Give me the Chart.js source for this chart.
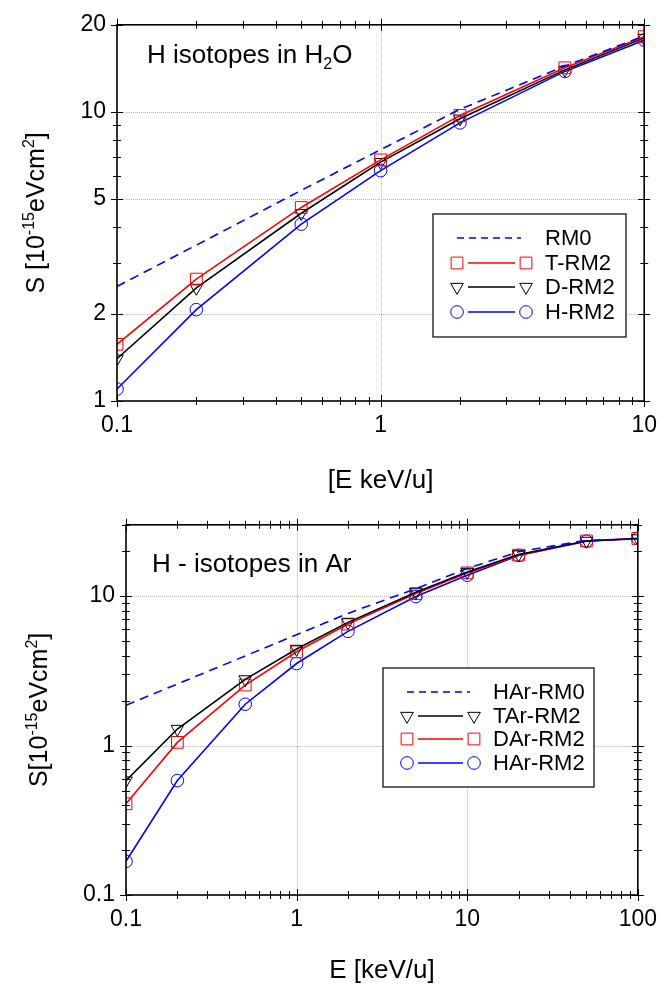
<!DOCTYPE html>
<html>
<head>
<meta charset="utf-8">
<script src="https://cdn.jsdelivr.net/npm/chart.js@4.4.1/dist/chart.umd.min.js"></script>
<style>
  body { margin: 0; background: #fff; }
  #wrap { position: relative; width: 668px; height: 987px; }
  canvas { position: absolute; left: 0; }
</style>
</head>
<body>
<div id="wrap">
  <canvas id="top" width="668" height="500" style="top:0"></canvas>
  <canvas id="bot" width="668" height="487" style="top:500px"></canvas>
</div>
<script>
// --- data: H isotopes in H2O
const topE = [0.1, 0.2, 0.5, 1, 2, 5, 10];
const topRM0 = [2.49, 3.46, 5.35, 7.40, 10.2, 14.4, 18.3];
const topT = [1.57, 2.64, 4.67, 6.82, 9.72, 14.2, 18.2];
const topD = [1.40, 2.46, 4.46, 6.70, 9.47, 13.97, 18.0];
const topH = [1.10, 2.07, 4.09, 6.26, 9.16, 13.8, 17.7];

// --- data: H isotopes in Ar
const botE = [0.1, 0.2, 0.5, 1, 2, 5, 10, 20, 50, 100];
const botRM0 = [1.86, 2.58, 3.98, 5.52, 7.66, 11.2, 15.3, 19.8, 23.6, 24.1];
const botT = [0.583, 1.29, 2.77, 4.43, 6.67, 10.6, 14.5, 19.0, 23.4, 24.3];
const botD = [0.408, 1.05, 2.54, 4.24, 6.50, 10.4, 14.3, 18.8, 23.4, 24.3];
const botH = [0.168, 0.583, 1.89, 3.54, 5.81, 9.93, 13.8, 18.7, 23.3, 24.3];

// --- tick labels
const topXTicks = [0.1, 1, 10];
const topYTicks = [1, 2, 5, 10, 20];
const botXTicks = [0.1, 1, 10, 100];
const botYTicks = [0.1, 1, 10];

const FONT = "'Liberation Sans', Arial, sans-serif";
const RED = "#ff0000", BLUE = "#0000ff", BLACK = "#000000";

const pts = (xs, ys) => xs.map((x, i) => ({ x: x, y: ys[i] }));

const styles = {
  dash: { borderColor: BLUE, borderWidth: 1.6, borderDash: [9, 6], pointRadius: 0 },
  square: { pointStyle: "rect", pointRadius: 8.3, pointRotation: 0 },
  tri: { pointStyle: "triangle", pointRadius: 7.3, pointRotation: 180 },
  circ: { pointStyle: "circle", pointRadius: 6.3, pointRotation: 0 },
};

const marked = (label, data, color, shape) => Object.assign({
  label: label,
  data: data,
  borderColor: color,
  borderWidth: 1.6,
  pointBorderColor: color,
  pointBackgroundColor: "rgba(0,0,0,0)",
  pointBorderWidth: 1,
  pointHoverRadius: styles[shape].pointRadius,
}, styles[shape]);

// all 1..9 x 10^n positions inside the range (minor tick marks)
function logSteps(min, max) {
  const out = [];
  for (let d = Math.floor(Math.log10(min)); d <= Math.ceil(Math.log10(max)); d++) {
    for (let k = 1; k <= 9; k++) {
      const v = +(k * Math.pow(10, d)).toPrecision(3);
      if (v >= min * 0.999 && v <= max * 1.001) out.push(v);
    }
  }
  return out;
}

function drawRich(ctx, parts, x, y, size, align) {
  const fontOf = (p) => (p.sup || p.sub ? Math.round(size * 0.62) : size) + "px " + FONT;
  let total = 0;
  parts.forEach(p => { ctx.font = fontOf(p); p.w = ctx.measureText(p.t).width; total += p.w; });
  let cx = align === "center" ? x - total / 2 : x;
  ctx.textAlign = "left";
  ctx.textBaseline = "alphabetic";
  parts.forEach(p => {
    ctx.font = fontOf(p);
    let dy = 0;
    if (p.sup) dy = -size * 0.42;
    if (p.sub) dy = size * 0.22;
    ctx.fillText(p.t, cx, y + dy);
    cx += p.w;
  });
}

const decor = {
  id: "decor",
  beforeDatasetsDraw(chart, args, o) {
    const { ctx, chartArea: a, scales: { x, y } } = chart;
    ctx.save();
    ctx.strokeStyle = "#b8b8b8";
    ctx.lineWidth = 1;
    ctx.setLineDash([1, 1]);
    o.gridX.forEach(v => {
      const px = Math.round(x.getPixelForValue(v)) + 0.5;
      ctx.beginPath(); ctx.moveTo(px, a.top); ctx.lineTo(px, a.bottom); ctx.stroke();
    });
    o.gridY.forEach(v => {
      const py = Math.round(y.getPixelForValue(v)) + 0.5;
      ctx.beginPath(); ctx.moveTo(a.left, py); ctx.lineTo(a.right, py); ctx.stroke();
    });
    ctx.restore();
  },
  afterDraw(chart, args, o) {
    const { ctx, chartArea: a, scales: { x, y } } = chart;
    ctx.save();
    ctx.strokeStyle = BLACK;
    ctx.fillStyle = BLACK;
    ctx.setLineDash([]);

    // ticks crossing all four sides
    ctx.lineWidth = 1;
    logSteps(x.min, x.max).forEach(v => {
      const px = Math.round(x.getPixelForValue(v)) + 0.5;
      const h = o.majorX.includes(v) ? 6 : 4;
      ctx.beginPath();
      ctx.moveTo(px, a.bottom - h); ctx.lineTo(px, a.bottom + h);
      ctx.moveTo(px, a.top - h); ctx.lineTo(px, a.top + h);
      ctx.stroke();
    });
    logSteps(y.min, y.max).forEach(v => {
      const py = Math.round(y.getPixelForValue(v)) + 0.5;
      const h = o.majorY.includes(v) ? 6 : 4;
      ctx.beginPath();
      ctx.moveTo(a.left - h, py); ctx.lineTo(a.left + h, py);
      ctx.moveTo(a.right - h, py); ctx.lineTo(a.right + h, py);
      ctx.stroke();
    });

    // frame
    ctx.lineWidth = 1.6;
    ctx.strokeRect(a.left, a.top, a.right - a.left, a.bottom - a.top);

    // panel title
    drawRich(ctx, o.title, o.titleX, o.titleY, 26, "left");

    // x axis title
    drawRich(ctx, [{ t: o.xTitle }], (a.left + a.right) / 2, o.xTitleY, 26, "center");

    // y axis title, rotated
    ctx.save();
    ctx.translate(o.yTitleX, (a.top + a.bottom) / 2);
    ctx.rotate(-Math.PI / 2);
    drawRich(ctx, o.yTitle, 0, 9, 25, "center");
    ctx.restore();

    // legend box
    const L = o.legend;
    ctx.lineWidth = 1.2;
    ctx.fillStyle = "#fff";
    ctx.fillRect(L.x0, L.y0, L.x1 - L.x0, L.y1 - L.y0);
    ctx.strokeStyle = BLACK;
    ctx.strokeRect(L.x0, L.y0, L.x1 - L.x0, L.y1 - L.y0);
    L.order.forEach((di, row) => {
      const ds = chart.data.datasets[di];
      const ry = L.rowY[row];
      ctx.strokeStyle = ds.borderColor;
      ctx.lineWidth = 1.6;
      if (ds.pointRadius === 0) {
        ctx.setLineDash([7, 5]);
        ctx.beginPath(); ctx.moveTo(L.dashX0, ry); ctx.lineTo(L.dashX1, ry); ctx.stroke();
        ctx.setLineDash([]);
      } else {
        ctx.beginPath(); ctx.moveTo(L.lineX0, ry); ctx.lineTo(L.lineX1, ry); ctx.stroke();
        ctx.lineWidth = 1;
        ctx.fillStyle = "rgba(0,0,0,0)";
        [L.markL, L.markR].forEach(mx => {
          Chart.helpers.drawPoint(ctx, {
            pointStyle: ds.pointStyle, radius: ds.pointRadius,
            rotation: ds.pointRotation, borderWidth: 1,
          }, mx, ry);
        });
      }
      ctx.fillStyle = BLACK;
      ctx.font = "22px " + FONT;
      ctx.textAlign = "left";
      ctx.textBaseline = "middle";
      ctx.fillText(ds.label, L.textX, ry + 1);
    });
    ctx.restore();
  },
};

function axes(xmin, xmax, xTicks, ymin, ymax, yTicks, yWidth, xHeight) {
  const tickFont = { family: FONT, size: 23 };
  return {
    x: {
      type: "logarithmic", min: xmin, max: xmax,
      afterBuildTicks: s => { s.ticks = xTicks.map(v => ({ value: v })); },
      afterFit: s => { s.height = xHeight; },
      grid: { display: false, drawTicks: false },
      border: { display: false },
      ticks: {
        autoSkip: false, maxRotation: 0, color: BLACK, font: tickFont, padding: 11,
        callback: v => String(v),
      },
    },
    y: {
      type: "logarithmic", min: ymin, max: ymax,
      afterBuildTicks: s => { s.ticks = yTicks.map(v => ({ value: v })); },
      afterFit: s => { s.width = yWidth; },
      grid: { display: false, drawTicks: false },
      border: { display: false },
      ticks: {
        autoSkip: false, color: BLACK, font: tickFont, padding: 11,
        callback: v => String(v),
      },
    },
  };
}

new Chart(document.getElementById("top").getContext("2d"), {
  type: "line",
  data: {
    datasets: [
      Object.assign({ label: "RM0", data: pts(topE, topRM0) }, styles.dash),
      marked("T-RM2", pts(topE, topT), RED, "square"),
      marked("D-RM2", pts(topE, topD), BLACK, "tri"),
      marked("H-RM2", pts(topE, topH), BLUE, "circ"),
    ],
  },
  options: {
    responsive: false,
    animation: false,
    events: [],
    layout: { padding: { left: 0, top: 20, right: 21, bottom: 0 } },
    scales: axes(0.1, 10, topXTicks, 1, 20, topYTicks, 117, 99),
    plugins: {
      legend: { display: false },
      tooltip: { enabled: false },
      decor: {
        gridX: [1], gridY: [2, 5, 10],
        majorX: topXTicks, majorY: topYTicks,
        title: [{ t: "H isotopes in H" }, { t: "2", sub: true }, { t: "O" }],
        titleX: 147, titleY: 63,
        xTitle: "[E keV/u]", xTitleY: 488,
        yTitle: [{ t: "S [10" }, { t: "-15", sup: true }, { t: "eVcm" }, { t: "2", sup: true }, { t: "]" }],
        yTitleX: 35,
        legend: {
          x0: 433, y0: 214, x1: 626, y1: 337,
          rowY: [238, 263, 287, 312], order: [0, 1, 2, 3],
          dashX0: 457, dashX1: 521, lineX0: 468, lineX1: 515,
          markL: 457, markR: 526, textX: 545,
        },
      },
    },
  },
  plugins: [decor],
});

new Chart(document.getElementById("bot").getContext("2d"), {
  type: "line",
  data: {
    datasets: [
      Object.assign({ label: "HAr-RM0", data: pts(botE, botRM0) }, styles.dash),
      marked("TAr-RM2", pts(botE, botT), BLACK, "tri"),
      marked("DAr-RM2", pts(botE, botD), RED, "square"),
      marked("HAr-RM2", pts(botE, botH), BLUE, "circ"),
    ],
  },
  options: {
    responsive: false,
    animation: false,
    events: [],
    layout: { padding: { left: 0, top: 23, right: 25, bottom: 0 } },
    scales: axes(0.1, 100, botXTicks, 0.1, 30, botYTicks, 126, 92),
    plugins: {
      legend: { display: false },
      tooltip: { enabled: false },
      decor: {
        gridX: [1, 10], gridY: [1, 10],
        majorX: botXTicks, majorY: botYTicks,
        title: [{ t: "H - isotopes in Ar" }],
        titleX: 152, titleY: 72,
        xTitle: "E [keV/u]", xTitleY: 478,
        yTitle: [{ t: "S[10" }, { t: "-15", sup: true }, { t: "eVcm" }, { t: "2", sup: true }, { t: "]" }],
        yTitleX: 38,
        legend: {
          x0: 383, y0: 168, x1: 594, y1: 287,
          rowY: [192, 216, 239, 263], order: [0, 1, 2, 3],
          dashX0: 407, dashX1: 470, lineX0: 418, lineX1: 463,
          markL: 407, markR: 474, textX: 493,
        },
      },
    },
  },
  plugins: [decor],
});
</script>
</body>
</html>
